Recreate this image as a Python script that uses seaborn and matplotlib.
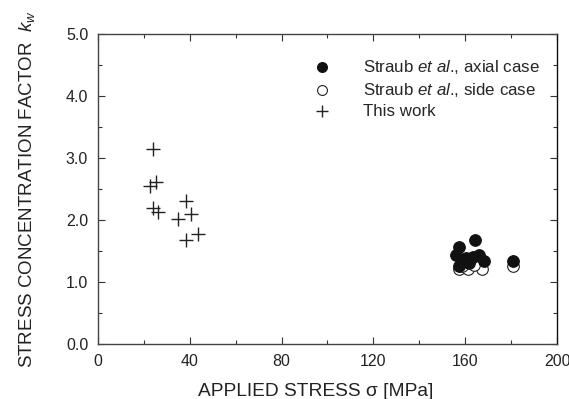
import matplotlib
matplotlib.use("Agg")
import matplotlib.pyplot as plt
import seaborn as sns
import pandas as pd
from matplotlib.ticker import MultipleLocator

# Data
axial_x = [164.3, 157.1, 156.0, 158.8, 163.2, 166.0, 168.3, 180.6, 157.4, 160.5, 161.5]
axial_y = [1.67, 1.57, 1.44, 1.33, 1.41, 1.44, 1.33, 1.33, 1.25, 1.38, 1.30]
side_x = [157.4, 161.0, 167.5, 180.6, 165.0, 158.5, 164.0]
side_y = [1.21, 1.21, 1.21, 1.25, 1.40, 1.25, 1.28]
work_x = [23.8, 25.5, 22.6, 24.0, 26.2, 38.3, 40.7, 34.9, 43.6, 38.6]
work_y = [3.14, 2.61, 2.54, 2.19, 2.12, 2.30, 2.09, 2.01, 1.78, 1.67]

x_ticks = [0, 40, 80, 120, 160, 200]
y_ticks = [0.0, 1.0, 2.0, 3.0, 4.0, 5.0]

sns.set_style("ticks")
plt.rcParams['font.family'] = ['Liberation Sans', 'DejaVu Sans']
plt.rcParams['mathtext.fontset'] = 'custom'
plt.rcParams['mathtext.rm'] = 'Liberation Sans'
plt.rcParams['mathtext.it'] = 'Liberation Sans:italic'

fig = plt.figure(figsize=(5.69, 3.99), dpi=100)
ax = fig.add_axes([0.172, 0.138, 0.807, 0.777])

side = pd.DataFrame({"x": side_x, "y": side_y})
axial = pd.DataFrame({"x": axial_x, "y": axial_y})
work = pd.DataFrame({"x": work_x, "y": work_y})

sns.scatterplot(data=side, x="x", y="y", ax=ax, marker="o", s=70,
                facecolor="white", edgecolor="#222222", linewidth=0.8,
                label=r"Straub $et\ al$., side case", zorder=2)
sns.scatterplot(data=axial, x="x", y="y", ax=ax, marker="o", s=70,
                color="#111111", edgecolor="#111111", linewidth=0.8,
                label=r"Straub $et\ al$., axial case", zorder=3)
sns.scatterplot(data=work, x="x", y="y", ax=ax, marker="+", s=90,
                color="#222222", linewidth=1.0,
                label="This work", zorder=3)

ax.set_xlim(0, 200)
ax.set_ylim(0, 5)
ax.set_xticks(x_ticks)
ax.set_xticklabels([str(v) for v in x_ticks])
ax.set_yticks(y_ticks)
ax.set_yticklabels([f"{v:.1f}" for v in y_ticks])
ax.xaxis.set_minor_locator(MultipleLocator(20))
ax.yaxis.set_minor_locator(MultipleLocator(0.5))
ax.tick_params(which="both", direction="in", top=True, right=True,
               colors="#333333", labelcolor="#222222", labelsize=11.5)
ax.tick_params(which="major", length=5, width=0.8, pad=7)
ax.tick_params(which="minor", length=3, width=0.8)
for sp in ax.spines.values():
    sp.set_visible(True)
    sp.set_color("#444444")
    sp.set_linewidth(1.0)
ax.spines["right"].set_color("#111111")

ax.set_xlabel(r"APPLIED STRESS σ [MPa]", fontsize=13.8, color="#222222", labelpad=10)
ax.xaxis.set_label_coords(0.475, -0.125, transform=ax.transAxes)
ax.xaxis.label.set_va("top")
ax.set_ylabel(r"STRESS CONCENTRATION FACTOR  $k_w$", fontsize=13.5, color="#222222", labelpad=21)

handles, labels = ax.get_legend_handles_labels()
order = [1, 0, 2]
ax.legend([handles[i] for i in order], [labels[i] for i in order],
          loc="upper left", bbox_to_anchor=(0.43, 0.956), frameon=False,
          fontsize=12.2, labelspacing=0.3, handletextpad=1.4, borderaxespad=0.2,
          markerscale=0.85)

fig.savefig("out.png", dpi=100)
